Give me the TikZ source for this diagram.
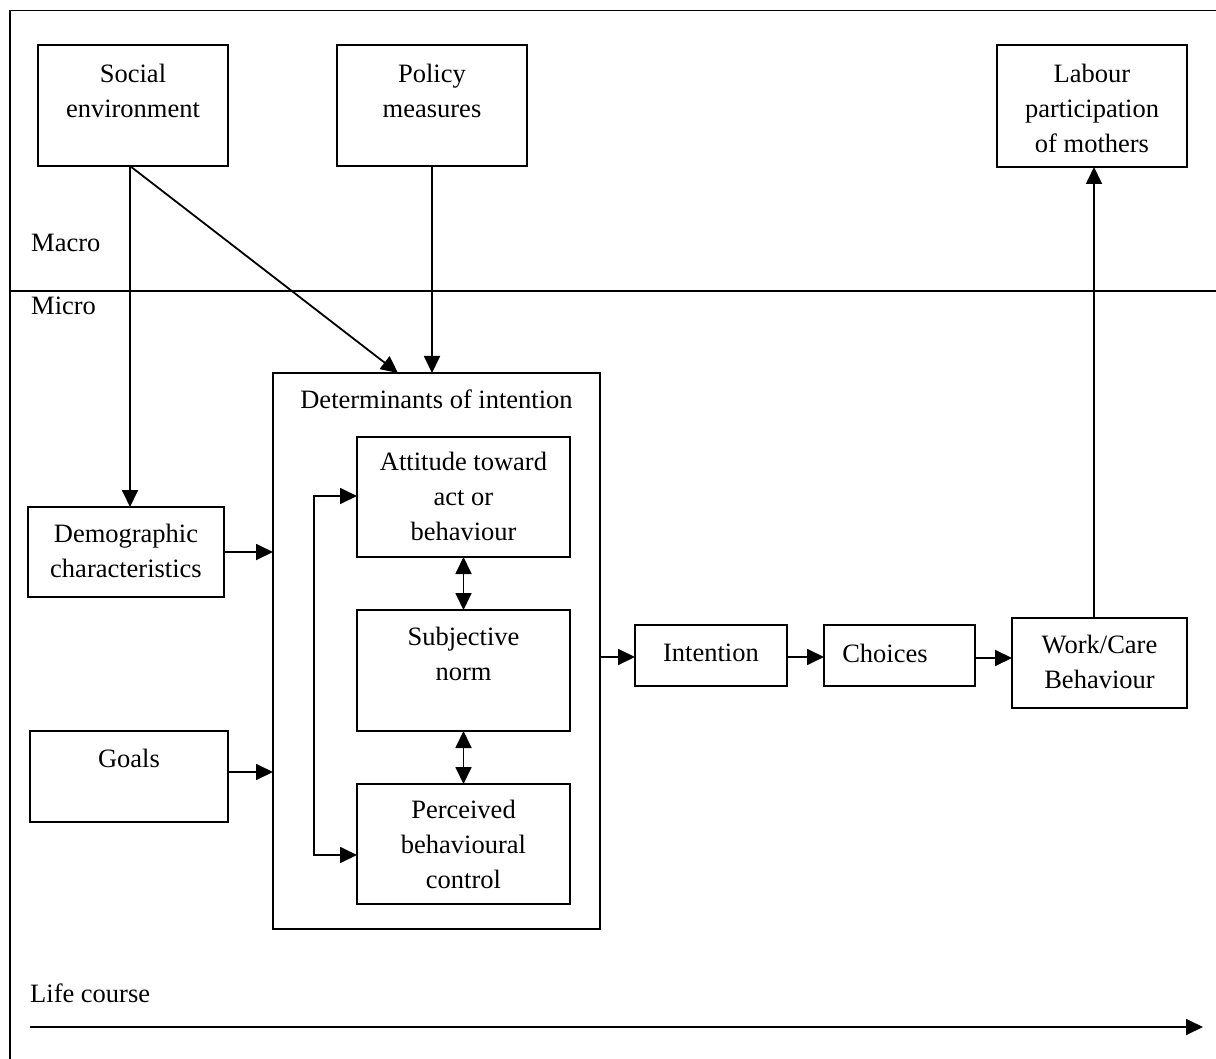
\documentclass[tikz,border=0pt]{standalone}
\usepackage{fontspec}
\setmainfont{Liberation Serif}
\usetikzlibrary{arrows.meta}
\begin{document}
\begin{tikzpicture}[x=1pt,y=-1pt,
  font=\fontsize{26.5}{35}\selectfont,
  box/.style={draw, line width=2pt, inner sep=0pt, outer sep=0pt, anchor=north west},
  txt/.style={inner sep=0pt, align=center, anchor=north},
  lbl/.style={inner sep=0pt, anchor=base west},
  conn/.style={line width=1.8pt, -{Triangle[length=17pt,width=16pt]}},
  dconn/.style={line width=1.8pt, {Triangle[length=17pt,width=16pt]}-{Triangle[length=17pt,width=16pt]}},
  frame/.style={line width=1.8pt}]
\useasboundingbox (0,0) rectangle (1216,1059);

% frame
\draw[frame] (10,1059) -- (10,10.5) -- (1216,10.5);
\draw[frame] (10,291) -- (1216,291);

% boxes
\node[box, minimum width=190pt, minimum height=121pt] (se) at (38,45) {};
\node[box, minimum width=190pt, minimum height=121pt] (pm) at (337,45) {};
\node[box, minimum width=190pt, minimum height=122pt] (lp) at (997,45) {};
\node[box, minimum width=327pt, minimum height=556pt] (det) at (273,373) {};
\node[box, minimum width=213pt, minimum height=120pt] (att) at (357,437) {};
\node[box, minimum width=213pt, minimum height=121pt] (sn) at (357,610) {};
\node[box, minimum width=213pt, minimum height=120pt] (pbc) at (357,784) {};
\node[box, minimum width=196pt, minimum height=90pt] (dem) at (28,507) {};
\node[box, minimum width=198pt, minimum height=91pt] (goals) at (30,731) {};
\node[box, minimum width=152pt, minimum height=61pt] (int) at (635,625) {};
\node[box, minimum width=151pt, minimum height=61pt] (cho) at (824,625) {};
\node[box, minimum width=175pt, minimum height=90pt] (wc) at (1012,618) {};

% texts
\node[txt] (tse) at (133,64) {Social\\environment};
\node[txt] (tpm) at (432,64) {Policy\\measures};
\node[txt] (tlp) at (1092,64) {Labour\\participation\\of mothers};
\node[lbl] (tmacro) at (31,252) {Macro};
\node[lbl] (tmicro) at (31,315) {Micro};
\node[txt] (tdet) at (436.5,390) {Determinants of intention};
\node[txt] (tatt) at (463.5,452) {Attitude toward\\act or\\behaviour};
\node[txt] (tsn) at (463.5,627) {Subjective\\norm};
\node[txt] (tpbc) at (463.5,800) {Perceived\\behavioural\\control};
\node[txt] (tdem) at (126,524) {Demographic\\characteristics};
\node[txt] (tgoals) at (129,749) {Goals};
\node[txt] (tint) at (711,644) {Intention};
\node[txt] (tcho) at (885,644) {Choices};
\node[txt] (twc) at (1099.5,635) {Work/Care\\Behaviour};
\node[lbl] (tlife) at (30,1002) {Life course};

% connectors
\coordinate (sefoot) at (130,166);
\coordinate (detin) at (398,373);
\draw[conn] (sefoot) -- (sefoot |- dem.north);
\draw[conn] (sefoot) -- (detin);
\draw[conn] (pm.south) -- (pm.south |- det.north);
\draw[conn] (dem.east) -- (dem.east -| det.west);
\coordinate (gy) at (228,772);
\draw[conn] (gy) -- (gy -| det.west);
\coordinate (l1) at (314,496);
\coordinate (l2) at (314,855);
\draw[dconn] (att.west |- l1) -- (l1) -- (l2) -- (pbc.west |- l2);
\draw[dconn] (att.south) -- (sn.north);
\draw[dconn] (sn.south) -- (pbc.north);
\coordinate (iy) at (600,657);
\draw[conn] (iy) -- (iy -| int.west);
\coordinate (cy) at (787,657);
\draw[conn] (cy) -- (cy -| cho.west);
\coordinate (wy) at (975,658);
\draw[conn] (wy) -- (wy -| wc.west);
\coordinate (wtop) at (1094,618);
\draw[conn] (wtop) -- (wtop |- lp.south);
\coordinate (ls) at (30,1027);
\coordinate (le) at (1203,1027);
\draw[conn] (ls) -- (le);
\end{tikzpicture}
\end{document}
